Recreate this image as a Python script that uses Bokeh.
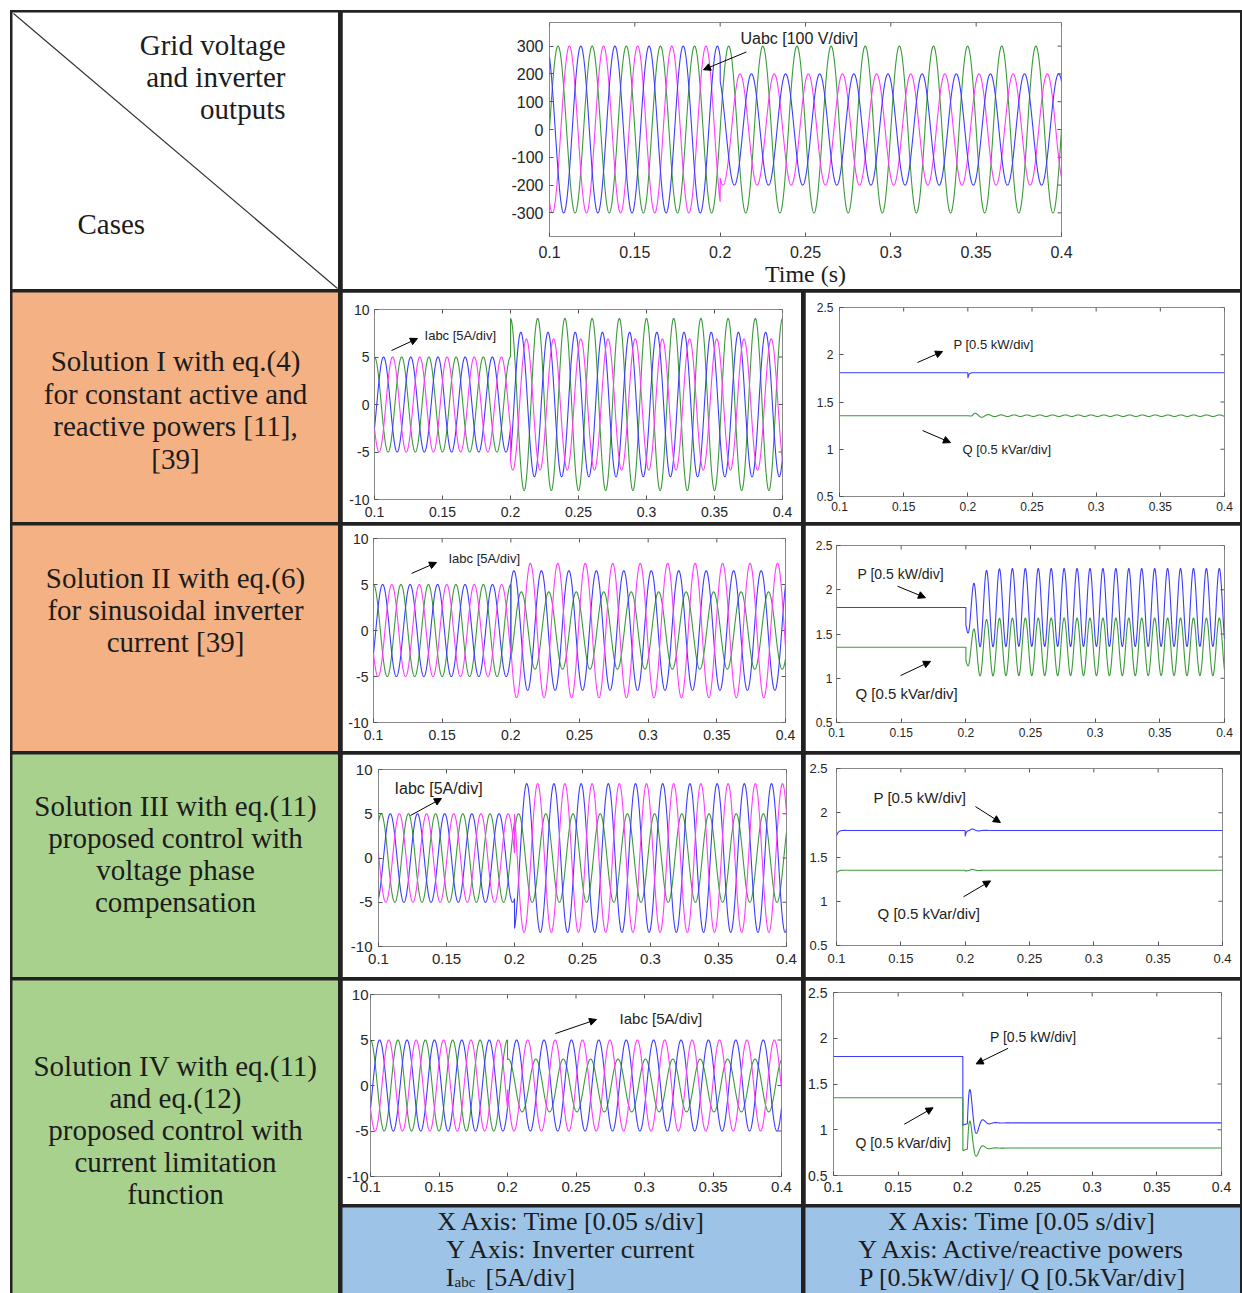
import numpy as np
from bokeh.plotting import figure
from bokeh.layouts import row, column
from bokeh.models import (Range1d, FixedTicker, CustomJSTickFormatter,
                          Arrow, NormalHead, Label)
from bokeh.core.properties import value
from bokeh.embed import file_html
from bokeh.resources import INLINE

# ---------------- data ----------------
t_start, t_event, t_end = 0.1, 0.2, 0.4
f_grid = 50.0            # Hz
f_ripple = 100.0         # Hz, double-frequency power ripple
x_ticks = [0.1, 0.15, 0.2, 0.25, 0.3, 0.35, 0.4]
volt_y_ticks = [-300, -200, -100, 0, 100, 200, 300]
cur_y_ticks = [-10, -5, 0, 5, 10]
pow_y_ticks = [0.5, 1, 1.5, 2, 2.5]

# grid voltage, phases green / magenta / blue
# lag = position of the positive peak inside the 20 ms cycle (fraction of a cycle)
volt_amp_pre = [300, 300, 300]
volt_amp_post = [300, 200, 200]
volt_lag_pre = [0.25, 0.583, 0.917]
volt_lag_post = [0.25, 0.583, 0.917]

# inverter currents for solutions I..IV, phases green / blue / magenta
cur_amp_pre = [[5.0, 5.0, 5.0], [5.0, 5.0, 5.0], [5.0, 5.0, 5.0], [5.0, 5.0, 5.0]]
cur_lag_pre = [[0.0, 0.333, 0.667], [0.0, 0.333, 0.667], [0.1, 0.433, 0.767], [0.0, 0.333, 0.667]]
cur_amp_post = [[9.05, 7.6, 6.9], [4.2, 6.5, 7.3], [5.0, 8.4, 8.4], [2.9, 5.0, 5.0]]
cur_lag_post = [[0.0, 0.38, 0.585], [0.382, 0.113, 0.71], [0.151, 0.45, 0.853], [0.035, 0.333, 0.738]]

# active power P and reactive power Q for solutions I..IV
P_pre = [1.81, 1.80, 1.80, 1.80]
P_post = [1.81, 1.80, 1.80, 1.075]
P_osc = [0.0, 0.44, 0.0, 0.0]          # steady 100 Hz ripple after the sag
P_step_dip = [0.06, 0.20, 0.07, 0.025]
P_dip_tau = [0.0008, 0.006, 0.0008, 0.004]
P_ring = [0.0, 0.0, 0.015, 0.345]      # damped swing after the sag
P_ring_tau = [0.004, 0.004, 0.004, 0.0042]
P_start_dip = [0.0, 0.0, 0.06, 0.0]

Q_pre = [1.355, 1.35, 1.35, 1.35]
Q_post = [1.355, 1.355, 1.35, 0.80]
Q_osc = [0.008, 0.325, 0.0, 0.0]
Q_step_dip = [0.0, 0.15, 0.01, 0.03]
Q_dip_tau = [0.004, 0.006, 0.002, 0.004]
Q_ring = [0.02, 0.0, 0.01, 0.28]
Q_ring_tau = [0.006, 0.004, 0.004, 0.004]
Q_start_dip = [0.0, 0.0, 0.03, 0.0]

case_text = [
    ["Solution I with eq.(4)", "for constant active and", "reactive powers [11],", "[39]"],
    ["Solution II with eq.(6)", "for sinusoidal inverter", "current [39]"],
    ["Solution III with eq.(11)", "proposed control with", "voltage phase", "compensation"],
    ["Solution IV with eq.(11)", "and eq.(12)", "proposed control with", "current limitation", "function"],
]
case_colors = ["#f4b183", "#f4b183", "#a9d18e", "#a9d18e"]
header_text = ["Grid voltage", "and inverter", "outputs"]
foot_cur = ["X Axis: Time [0.05 s/div]", "Y Axis: Inverter current"]
foot_pow = ["X Axis: Time [0.05 s/div]", "Y Axis: Active/reactive powers",
            "P [0.5kW/div]/ Q [0.5kVar/div]"]

GREEN, BLUE, MAGENTA = "#3a9a3a", "#3c3cff", "#ff3cff"
SERIF = "Liberation Serif"
SANS = "Liberation Sans"
INK = "#1c1c1c"
TABLE_PX = "29px"

# ---------------- signals ----------------
t = np.arange(t_start, t_end + 1e-9, 4e-5)
after = t >= t_event
tp = np.clip(t - t_event, 0, None)


def three_phase(amp_pre, lag_pre, amp_post, lag_post):
    pre = amp_pre * np.cos(2 * np.pi * (f_grid * t - lag_pre))
    post = amp_post * np.cos(2 * np.pi * (f_grid * t - lag_post))
    return np.where(after, post, pre)


def power(pre, post, osc, dip, dip_tau, ring, ring_tau, start_dip):
    w = 2 * np.pi * f_ripple
    ts = t - t_start
    before = pre - start_dip * np.exp(-ts / 0.0015) * np.cos(w * ts / 2)
    ramp = 1 - np.exp(-tp / 0.004)
    y = post + osc * ramp * np.cos(w * (tp - 0.006)) - dip * np.exp(-tp / dip_tau)
    r_on = tp >= 0.0035
    y = y + np.where(r_on, ring * np.exp(-(tp - 0.006) / ring_tau) * np.sin(w * (tp - 0.0035)), 0)
    return np.where(after, y, before)


# ---------------- helpers ----------------
fmt = CustomJSTickFormatter(code="return String(tick);")


def cell(w, h, bg):
    f = figure(width=w, height=h, x_range=Range1d(0, w), y_range=Range1d(h, 0),
               output_backend="svg", toolbar_location=None, min_border=0,
               background_fill_color=bg, border_fill_color=bg, outline_line_color=None)
    f.axis.visible = False
    f.grid.visible = False
    return f


def scope(w, h, borders, yr, yticks, font_px, xstand, ystand):
    ml, mr, mt, mb = borders
    f = figure(width=w, height=h, x_range=Range1d(t_start, t_end), y_range=Range1d(*yr),
               output_backend="svg", toolbar_location=None,
               min_border_left=ml, min_border_right=mr, min_border_top=mt, min_border_bottom=mb,
               background_fill_color="white", border_fill_color="white",
               outline_line_color="#8a8a8a", outline_line_width=1)
    f.grid.visible = False
    f.below[0].ticker = FixedTicker(ticks=x_ticks)
    f.left[0].ticker = FixedTicker(ticks=yticks)
    for ax in (f.below[0], f.left[0]):
        ax.formatter = fmt
        ax.axis_line_color = None
        ax.major_tick_in = 4
        ax.major_tick_out = 0
        ax.major_tick_line_color = "#555555"
        ax.minor_tick_line_color = None
        ax.major_label_text_font = SANS
        ax.major_label_text_font_size = f"{font_px}px"
        ax.major_label_text_color = "#262626"
    f.below[0].major_label_standoff = xstand
    f.left[0].major_label_standoff = ystand
    # box ticks on the top and right edges
    f.ray(x=[t_end] * len(yticks), y=yticks, length=4, length_units="screen",
          angle=np.pi, line_color="#555555", line_width=1)
    f.ray(x=x_ticks, y=[yr[1]] * len(x_ticks), length=4, length_units="screen",
          angle=-np.pi / 2, line_color="#555555", line_width=1)
    return f


def note(f, text, x, y, ax0, ay0, ax1, ay1, size):
    f.add_layout(Arrow(end=NormalHead(size=7, fill_color="black", line_color="black"),
                       x_start=ax0, y_start=ay0, x_end=ax1, y_end=ay1,
                       line_color="black", line_width=1))
    f.add_layout(Label(x=x, y=y, text=text, text_font=SANS, text_font_size=f"{size}px",
                       text_baseline="middle", text_color="#222222"))


# ---------------- header row ----------------
diag = cell(326, 277, "white")
diag.segment(x0=[1], y0=[1], x1=[325], y1=[276], line_color="#333333", line_width=1.2)
diag.text(x=[273] * 3, y=[32, 64, 96], text=header_text, text_font=value(SERIF),
          text_font_size=TABLE_PX, text_align="right", text_baseline="middle", text_color=INK)
diag.text(x=[65], y=[211], text=["Cases"], text_font=value(SERIF), text_font_size=TABLE_PX,
          text_align="left", text_baseline="middle", text_color=INK)

volt = scope(898, 277, (207, 179, 10, 50), (-385, 385), volt_y_ticks, 16, 9, 6)
for amp0, lag0, amp1, lag1, col in zip(volt_amp_pre, volt_lag_pre, volt_amp_post,
                                       volt_lag_post, [GREEN, MAGENTA, BLUE]):
    volt.line(t, three_phase(amp0, lag0, amp1, lag1), line_color=col, line_width=1.1)
xa = volt.below[0]
xa.axis_label = "Time (s)"
xa.axis_label_text_font = SERIF
xa.axis_label_text_font_size = "24px"
xa.axis_label_text_font_style = "normal"
xa.axis_label_text_color = INK
xa.axis_label_standoff = 0
note(volt, "Uabc [100 V/div]", 0.2119, 328, 0.2154, 279, 0.1902, 215, 16)

# ---------------- case rows ----------------
cell_h = [230, 226, 223, 224]
cur_borders = [(32, 19, 17, 23), (31, 16, 13, 29), (36, 15, 15, 31), (28, 20, 14, 28)]
pow_borders = [(34, 16, 15, 26), (31, 16, 20, 29), (31, 18, 14, 32), (27, 19, 12, 29)]
cur_font = [14, 14, 15, 15]
pow_font = [12, 12, 13, 14]
cur_stand = [(7, 5), (7, 5), (7, 6), (5, 2)]
pow_stand = [(5, 6), (5, 4), (8, 9), (6, 6)]
cur_note_px = [13, 13, 16, 15]
p_note_px = [13, 14, 15, 14]
q_note_px = [13, 15, 15, 14]
cur_notes = [(0.1368, 7.26, 0.1125, 5.68, 0.1316, 6.95),
             (0.1546, 7.83, 0.1277, 6.2, 0.1459, 7.39),
             (0.1118, 7.85, 0.1235, 4.8, 0.1463, 6.72),
             (0.2818, 7.36, 0.235, 5.71, 0.265, 7.25)]
p_notes = [(0.1888, 2.108, 0.1608, 1.918, 0.1803, 2.034),
           (0.1162, 2.18, 0.1472, 2.04, 0.1688, 1.91),
           (0.1288, 2.17, 0.208, 2.07, 0.2274, 1.89),
           (0.221, 2.01, 0.235, 1.89, 0.2103, 1.72)]
q_notes = [(0.1958, 0.997, 0.1647, 1.198, 0.1865, 1.071),
           (0.1147, 0.83, 0.1495, 1.03, 0.1727, 1.19),
           (0.1319, 0.86, 0.1987, 1.05, 0.2197, 1.23),
           (0.117, 0.86, 0.1547, 1.06, 0.177, 1.24)]

right_items = [volt]
for k in range(4):
    fc = scope(459, cell_h[k], cur_borders[k], (-10, 10), cur_y_ticks, cur_font[k], *cur_stand[k])
    for j, col in enumerate([GREEN, BLUE, MAGENTA]):
        fc.line(t, three_phase(cur_amp_pre[k][j], cur_lag_pre[k][j],
                               cur_amp_post[k][j], cur_lag_post[k][j]),
                line_color=col, line_width=1.1)
    note(fc, "Iabc [5A/div]", *cur_notes[k], cur_note_px[k])

    fp = scope(435, cell_h[k], pow_borders[k], (0.5, 2.5), pow_y_ticks, pow_font[k], *pow_stand[k])
    fp.line(t, power(P_pre[k], P_post[k], P_osc[k], P_step_dip[k], P_dip_tau[k],
                     P_ring[k], P_ring_tau[k], P_start_dip[k]), line_color=BLUE, line_width=1.1)
    fp.line(t, power(Q_pre[k], Q_post[k], Q_osc[k], Q_step_dip[k], Q_dip_tau[k],
                     Q_ring[k], Q_ring_tau[k], Q_start_dip[k]), line_color=GREEN, line_width=1.1)
    note(fp, "P [0.5 kW/div]", *p_notes[k], p_note_px[k])
    note(fp, "Q [0.5 kVar/div]", *q_notes[k], q_note_px[k])
    right_items.append(row(column(fc), column(fp), spacing=4))

# ---------------- footer ----------------
BLUE_CELL = "#9dc3e6"
FOOT_PX = "26px"
mid = [14, 42, 70]
fc_cell = cell(459, 86, BLUE_CELL)
fc_cell.text(x=[229, 229], y=mid[:2], text=foot_cur, text_font=value(SERIF),
             text_font_size=FOOT_PX, text_align="center", text_baseline="middle", text_color=INK)
fc_cell.text(x=[112], y=[mid[2]], text=["I"], text_font=value(SERIF), text_font_size=FOOT_PX,
             text_align="right", text_baseline="middle", text_color=INK)
fc_cell.text(x=[112], y=[mid[2] + 4], text=["abc"], text_font=value(SERIF), text_font_size="15px",
             text_align="left", text_baseline="middle", text_color=INK)
fc_cell.text(x=[143], y=[mid[2]], text=["[5A/div]"], text_font=value(SERIF), text_font_size=FOOT_PX,
             text_align="left", text_baseline="middle", text_color=INK)
fp_cell = cell(435, 86, BLUE_CELL)
fp_cell.text(x=[217, 217, 217], y=mid, text=foot_pow, text_font=value(SERIF),
             text_font_size=FOOT_PX, text_align="center", text_baseline="middle", text_color=INK)
right_items.append(row(column(fc_cell), column(fp_cell), spacing=4))

# ---------------- case labels ----------------
left_h = [230, 226, 223, 313]
line_centres = [[68, 101, 133, 166], [52, 84, 116], [51, 83, 115, 147], [85, 117, 149, 181, 213]]
left_items = [diag]
for k in range(4):
    c = cell(326, left_h[k], case_colors[k])
    c.text(x=[163] * len(case_text[k]), y=line_centres[k], text=case_text[k],
           text_font=value(SERIF), text_font_size=TABLE_PX, text_align="center",
           text_baseline="middle", text_color=INK)
    left_items.append(c)

page = row(
    column(*left_items, spacing=3),
    column(*right_items, spacing=3),
    spacing=4,
    styles={"background-color": "#222222", "padding": "2px 2px 0px 2px",
            "margin-left": "10px", "margin-top": "10px"},
)

open("out.html", "w").write(file_html(page, INLINE))
